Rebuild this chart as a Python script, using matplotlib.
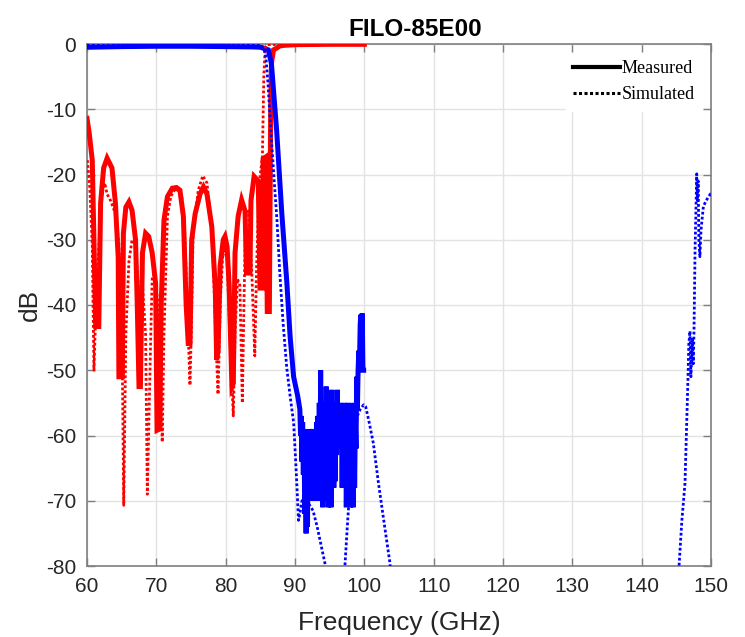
import numpy as np
import matplotlib
matplotlib.use("Agg")
import matplotlib.pyplot as plt
from matplotlib.lines import Line2D

plt.rcParams["axes.unicode_minus"] = False

# ---- data (GHz, dB) ----
# S11 measured (red solid)
s11_meas_f = [60.0, 60.3, 60.76, 61.0, 61.25, 61.7, 61.96, 62.4, 62.9, 63.6, 64.1, 64.5, 64.6,
              65.1, 65.25, 65.6, 66.05, 66.5, 67.0, 67.25, 67.5, 67.7, 68.0, 68.45, 68.9, 69.4,
              69.9, 70.1, 70.5, 70.7, 71.1, 71.6, 72.3, 72.9, 73.4, 73.9, 74.3, 74.6, 74.85,
              75.1, 75.6, 76.3, 76.8, 77.3, 78.0, 78.5, 78.7, 78.9, 79.2, 79.65, 79.9, 80.2,
              80.5, 80.9, 81.1, 81.35, 81.8, 82.3, 82.8, 83.0, 83.5, 83.65, 84.1, 84.7, 84.95,
              85.3, 85.4, 85.8, 86.0, 86.3, 86.5, 86.6, 86.9, 87.4, 87.8, 88.5, 90.2, 95.0, 100.0]
s11_meas_db = [-11.4, -13.5, -17.8, -30.0, -43.3, -43.3, -24.4, -19.0, -17.5, -19.0, -24.4, -32.7, -51.0,
               -51.0, -29.0, -25.0, -24.2, -25.5, -30.0, -40.0, -52.5, -52.5, -32.0, -29.0, -29.5, -32.0,
               -36.7, -59.2, -59.0, -40.0, -27.0, -23.4, -22.1, -22.0, -22.4, -26.4, -40.0, -45.9, -45.9,
               -30.0, -26.0, -23.0, -21.9, -23.0, -28.0, -37.3, -48.4, -47.0, -34.0, -30.0, -29.5, -31.0,
               -37.0, -52.5, -52.0, -32.0, -26.4, -23.9, -25.6, -35.1, -35.1, -24.0, -20.3, -21.0, -37.4,
               -37.4, -17.6, -17.3, -41.0, -41.0, -8.6, -3.0, -0.9, -0.6, -0.3, -0.2, -0.1, -0.05, -0.05]

# S11 simulated (red dotted)
s11_sim_f = [60.05, 60.4, 60.76, 61.0, 61.3, 61.7, 62.2, 62.55, 62.9, 63.4, 64.1, 64.6, 65.1, 65.3,
             65.6, 66.05, 66.5, 67.0, 67.5, 68.0, 68.45, 68.7, 69.2, 69.4, 69.75, 70.4, 70.85,
             71.1, 71.6, 72.1, 72.8, 73.65, 74.1, 74.6, 74.85, 75.05, 75.3, 76.05, 76.7, 77.3,
             78.0, 78.7, 78.9, 79.25, 79.65, 80.2, 80.6, 81.1, 81.35, 81.7, 82.05, 82.4, 82.65,
             82.9, 83.3, 83.75, 84.2, 84.45, 84.85, 85.2, 85.3, 85.5, 85.7, 86.0, 90.0, 100.0]
s11_sim_db = [-17.8, -22.0, -31.0, -50.0, -40.0, -31.0, -22.3, -21.3, -23.0, -24.0, -26.0, -30.6, -50.0, -70.7,
              -44.5, -33.3, -30.0, -30.6, -39.0, -37.0, -44.5, -69.0, -44.5, -36.0, -35.0, -41.6, -61.0,
              -44.5, -26.4, -23.3, -22.1, -23.2, -29.0, -44.5, -52.3, -44.0, -29.0, -22.4, -20.2, -21.3,
              -28.0, -48.4, -53.7, -39.0, -31.0, -33.0, -44.5, -57.0, -44.5, -36.0, -37.0, -55.0, -39.0,
              -26.0, -25.6, -34.4, -47.8, -34.4, -21.2, -18.2, -17.3, -5.0, -0.5, -0.1, -0.05, -0.05]

# S21 measured (blue solid): passband + skirt
s21_meas_f = [60.0, 65.0, 70.0, 75.0, 80.0, 84.0, 85.0, 85.6, 86.15, 86.6, 87.35, 88.1, 88.8,
              89.3, 89.8, 90.0, 90.4]
s21_meas_db = [-0.5, -0.4, -0.35, -0.35, -0.4, -0.45, -0.5, -0.7, -0.9, -3.0, -13.2, -26.0, -36.2,
               -44.9, -51.0, -52.0, -54.0]
# S21 measured stopband (noisy part, 90.7 - 100 GHz)
s21_noise_f = list(np.round(np.arange(90.70, 100.0, 0.1), 2))
s21_noise_db = [-56, -60, -57, -64, -58, -66, -59, -72, -62, -75, -60, -74, -61, -66, -59, -70,
                -60, -68, -59, -70, -61, -67, -60, -70, -58, -69, -57, -70, -55, -66, -50, -68,
                -58, -71, -57, -70, -55, -69, -52.5, -68, -56, -71, -58, -70, -54, -71, -53, -66,
                -55, -68, -57, -67, -55, -63, -53, -62, -56, -60, -55, -62, -57, -68, -58, -66,
                -55, -64, -56, -71, -60, -69, -55, -63, -56, -71, -58, -70, -60, -71, -55, -68,
                -58, -62, -51, -56, -50, -47, -49, -43, -41.5, -45, -41.3, -50, -50]

# S21 simulated (blue dotted)
s21_sim_f = [60.0, 70.0, 80.0, 85.0, 85.5, 85.8, 86.1, 86.5, 87.0, 87.4, 87.8, 88.3, 88.8, 89.3,
             89.8, 90.2, 90.5, 90.7, 91.0, 91.5, 92.0, 92.6, 93.2, 93.8, 94.4, 94.9, 96.9, 97.2,
             97.6, 98.0, 98.5, 99.0, 99.4, 99.9, 100.2, 100.7, 101.3, 102.0, 102.8, 103.7, 104.3,
             145.0, 145.39, 145.8, 146.25, 146.7, 146.8, 146.97, 147.1, 147.3, 147.45, 147.55,
             147.7, 147.94, 148.05, 148.15, 148.25, 148.4, 148.56, 148.7, 148.9, 149.3, 149.9, 150.0]
s21_sim_db = [-0.05, -0.05, -0.08, -0.1, -0.6, -2.0, -6.0, -13.0, -21.0, -27.0, -35.0, -43.0, -49.5, -54.0,
              -58.0, -66.0, -73.0, -72.0, -70.0, -70.0, -70.5, -71.5, -74.0, -77.0, -80.0, -90.0, -90.0, -80.0,
              -73.0, -67.0, -61.0, -57.0, -56.0, -55.3, -55.6, -58.0, -61.2, -67.0, -73.0, -79.6, -90.0,
              -90.0, -80.0, -73.0, -67.3, -50.4, -46.0, -44.0, -51.0, -45.0, -49.0, -43.8,
              -31.6, -19.9, -24.0, -21.0, -30.0, -32.6, -28.5, -27.0, -24.9, -24.0, -23.0, -23.0]

xticks = list(range(60, 151, 10))
yticks = list(range(-80, 1, 10))

# ---- figure ----
fig = plt.figure(figsize=(7.45, 6.37), dpi=100)
ax = fig.add_axes([87 / 745, 71 / 637, 624 / 745, 522 / 637])

spine_col = "#7f7f7f"
text_col = "#262626"

ax.plot(s11_meas_f, s11_meas_db, color="#ff0000", lw=3.6, solid_joinstyle="miter", zorder=3)
ax.plot(s21_meas_f + s21_noise_f, s21_meas_db + s21_noise_db, color="#0000ff", lw=3.6,
        solid_joinstyle="miter", zorder=4)
ax.plot(s11_sim_f, s11_sim_db, color="#ff0000", lw=2.0, ls=(0, (1, 0.8)), zorder=5)
ax.plot(s21_sim_f, s21_sim_db, color="#0000ff", lw=2.0, ls=(0, (1, 0.8)), zorder=6)

ax.set_xlim(60, 150)
ax.set_ylim(-80, 0)
ax.set_xticks(xticks)
ax.set_yticks(yticks)
ax.grid(True, color="#e3e3e3", lw=1.0, zorder=0)
ax.set_axisbelow(True)

for s in ax.spines.values():
    s.set_color(spine_col)
    s.set_linewidth(1.2)
ax.tick_params(direction="in", length=6, width=1.0, color=spine_col, top=True, right=True,
               labelsize=15, labelcolor=text_col, pad=8)
for lab in ax.get_xticklabels() + ax.get_yticklabels():
    lab.set_family("Liberation Sans")

ax.set_xlabel("Frequency (GHz)", fontsize=19, family="Liberation Sans", color=text_col, labelpad=11)
ax.set_ylabel("dB", fontsize=19, family="Liberation Sans", color=text_col, labelpad=3)
ax.set_title("FILO-85E00", fontsize=17.5, fontweight="bold", family="Liberation Sans",
             x=0.526, pad=6)

handles = [Line2D([], [], color="black", lw=3.0),
           Line2D([], [], color="black", lw=2.2, ls=(0, (1, 0.8)))]
leg = ax.legend(handles, ["Measured", "Simulated"], loc="upper right",
                prop={"family": "Liberation Serif", "size": 13}, frameon=True,
                handlelength=2.6, handletextpad=0.1, labelspacing=0.5,
                borderaxespad=0.5, borderpad=0.4, fancybox=False)
leg.get_frame().set_edgecolor("white")
leg.get_frame().set_facecolor("white")
leg.get_frame().set_alpha(1.0)

fig.savefig("out.png", dpi=100)
